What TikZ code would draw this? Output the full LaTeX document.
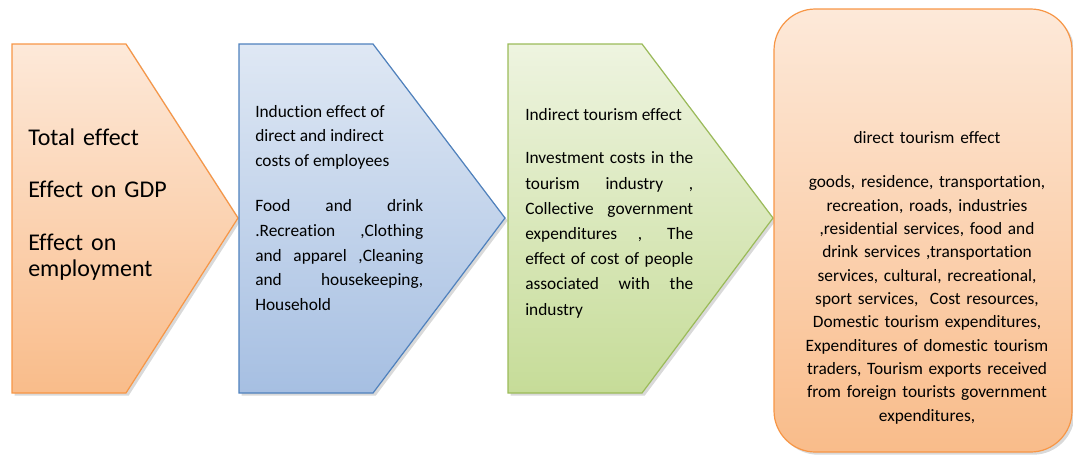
\documentclass[tikz,border=0pt]{standalone}
\usepackage{fontspec}
\setmainfont{Carlito}[Ligatures=NoCommon]
\usetikzlibrary{shadows}

\definecolor{peachline}{HTML}{F79646}
\definecolor{peachtop}{HTML}{FDE9D9}
\definecolor{peachbot}{HTML}{F9BC8A}
\definecolor{skyline}{HTML}{4F81BD}
\definecolor{skytop}{HTML}{DFE8F4}
\definecolor{skybot}{HTML}{A6BFE2}
\definecolor{leafline}{HTML}{9BBB59}
\definecolor{leaftop}{HTML}{EEF4E0}
\definecolor{leafbot}{HTML}{C6DC98}

\begin{document}
\begin{tikzpicture}[x=.75pt, y=-.75pt,
  box/.style={line width=.9pt, drop shadow={opacity=.3, shadow xshift=2pt, shadow yshift=-2pt}},
  peach/.style={box, draw=peachline, top color=peachtop, bottom color=peachbot},
  sky/.style={box, draw=skyline, top color=skytop, bottom color=skybot},
  leaf/.style={box, draw=leafline, top color=leaftop, bottom color=leafbot},
  txt/.style={inner sep=0pt, anchor=base west, text width=126pt, align=justify, font=\fontsize{13}{18.4}\selectfont}]
\useasboundingbox (0,0) rectangle (1073,455);

% chevrons, left to right
\foreach \xa/\xb/\xc/\sty in {12/126/238/peach, 239/373/505/sky, 508/642/773/leaf}
  \draw[\sty] (\xa,44) -- (\xb,44) -- (\xc,218) -- (\xb,393) -- (\xa,393) -- cycle;
\draw[peach, rounded corners=31pt] (774,9) rectangle (1072,452);

\node[anchor=base west, inner sep=0pt, text width=150pt, align=left, font=\fontsize{18}{19.5}\selectfont] (total) at (28,145)
  {Total effect\\[20pt]Effect on GDP\\[20pt]Effect on\\employment};

\node[txt] (induce) at (255,117)
  {Induction effect of\\direct and indirect\\costs of employees\\[16pt]
   Food and drink\linebreak .Recreation ,Clothing\linebreak and apparel ,Cleaning\linebreak
   and housekeeping,\linebreak Household};

\node[txt, font=\fontsize{13}{18.9}\selectfont] (indirect) at (525,120)
  {Indirect tourism effect\\[14pt]
   Investment costs in the\linebreak tourism industry ,\linebreak Collective government\linebreak
   expenditures , The\linebreak effect of cost of people\linebreak associated with the\linebreak industry};

\node[anchor=base, inner sep=0pt, text width=200pt, align=center, font=\fontsize{13}{17.5}\selectfont] (direct) at (927,143)
  {direct tourism effect\\[16pt]
   goods, residence, transportation,\\recreation, roads, industries\\,residential services, food and\\
   drink services ,transportation\\services, cultural, recreational,\\sport services,\ \ Cost resources,\\
   Domestic tourism expenditures,\\Expenditures of domestic tourism\\traders, Tourism exports received\\
   from foreign tourists government\\expenditures,};

\end{tikzpicture}
\end{document}
